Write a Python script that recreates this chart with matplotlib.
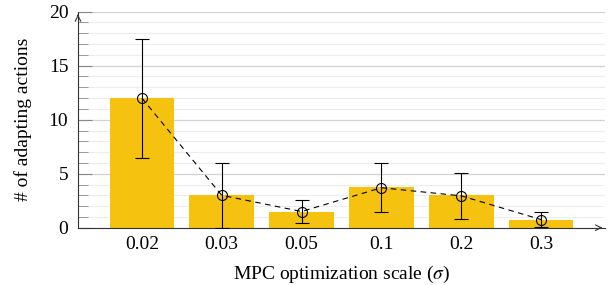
import numpy as np
import matplotlib
matplotlib.use('Agg')
import matplotlib.pyplot as plt

plt.rcParams['font.family'] = ['Liberation Serif', 'DejaVu Serif']
plt.rcParams['mathtext.fontset'] = 'stix'

scales = ['0.02', '0.03', '0.05', '0.1', '0.2', '0.3']
bar_vals = [12.0, 3.0, 1.5, 3.75, 3.0, 0.75]
means = [12.0, 3.0, 1.5, 3.7, 2.95, 0.75]
err_lo = [5.5, 3.0, 1.05, 2.25, 2.15, 0.7]
err_hi = [5.5, 2.95, 1.05, 2.25, 2.1, 0.7]

BAR = '#F4C20F'
FS = 14

fig = plt.figure(figsize=(6.08, 2.85), dpi=100)
ax = fig.add_axes([78/608, 57.3/285, 527/608, 216/285])

x = np.arange(len(scales))
ax.bar(x, bar_vals, width=0.81, color=BAR, zorder=2)
ax.errorbar(x, means, yerr=[err_lo, err_hi], fmt='none', ecolor='black',
            elinewidth=0.8, capsize=5.3, capthick=0.8, zorder=3)
ax.plot(x, means, color='black', ls=(0, (5, 4)), lw=0.8, marker='o',
        ms=7.2, mfc='none', mec='black', mew=0.8, zorder=4)

ax.set_xlim(-0.8, 5.8)
ax.set_ylim(0, 20)
ax.set_xticks(x)
ax.set_xticklabels(scales)
ax.set_yticks([0, 5, 10, 15, 20])
ax.set_yticks(np.arange(0, 21, 1), minor=True)

ax.grid(which='major', axis='y', color='#d2d2d2', lw=0.9, zorder=0)
ax.grid(which='minor', axis='y', color='#ececec', lw=0.8, zorder=0)
ax.set_axisbelow(True)

ax.tick_params(axis='x', length=0, pad=6, labelsize=FS)
ax.tick_params(axis='y', which='major', direction='in', length=10, width=0.8,
               color='#888888', pad=7, labelsize=FS)
ax.tick_params(axis='y', which='minor', direction='in', length=7, width=0.7,
               color='#999999')

for s in ['top', 'right']:
    ax.spines[s].set_visible(False)
for s in ['left', 'bottom']:
    ax.spines[s].set_linewidth(0.8)
    ax.spines[s].set_color('#333333')

# axis arrows
ax.annotate('', xy=(1.0, 0), xytext=(0.985, 0), xycoords='axes fraction',
            arrowprops=dict(arrowstyle='->', color='#333333', lw=0.8))
ax.annotate('', xy=(0, 1.0), xytext=(0, 0.97), xycoords='axes fraction',
            arrowprops=dict(arrowstyle='->', color='#333333', lw=0.8))

ax.set_xlabel(r'MPC optimization scale ($\sigma$)', fontsize=FS, labelpad=8)
ax.set_ylabel('# of adapting actions', fontsize=FS, labelpad=12)

fig.savefig('out.png', dpi=100)
